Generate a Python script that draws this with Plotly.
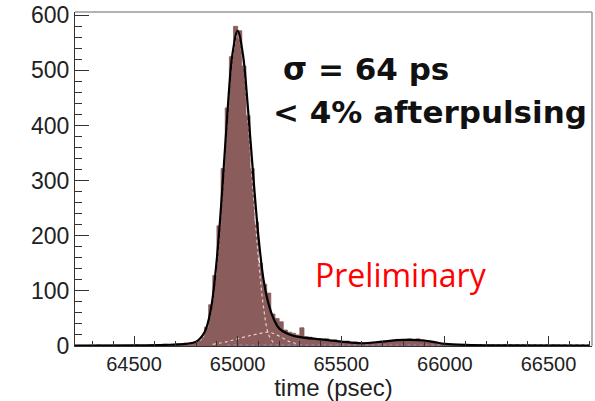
import numpy as np
import plotly.graph_objects as go

# Histogram: 20 ps bins from 64200 to 66700 ps
bin_width = 20
bin_centers = np.arange(64210, 66700, bin_width)
counts = [
    # 64210 .. 64790
    0, 1, 0, 0, 1, 0, 2, 0, 1, 0, 0, 1, 0, 1, 0, 2, 0, 1, 1, 2,
    1, 2, 3, 2, 3, 4, 3, 5, 4, 6,
    # 64810 .. 65190 (main peak)
    9, 16, 34, 75, 128, 218, 322, 432, 525, 580,
    572, 508, 418, 322, 225, 150, 112, 96, 58, 50,
    # 65210 .. 65590
    44, 29, 25, 23, 20, 33, 17, 16, 14, 13,
    12, 13, 10, 11, 9, 8, 9, 6, 7, 5,
    # 65610 .. 65990 (afterpulse bump)
    6, 5, 7, 6, 8, 9, 8, 10, 12, 11,
    12, 13, 12, 13, 11, 10, 9, 7, 5, 4,
    # 66010 .. 66690
    3, 2, 2, 1, 2, 1, 0, 1, 1, 0,
    2, 0, 1, 0, 1, 1, 0, 2, 0, 1,
    0, 1, 0, 0, 1, 0, 2, 0, 1, 0,
    1, 0, 1, 0, 0,
]
assert len(counts) == len(bin_centers)

# Total fit curve
fit_t = [64200, 64500, 64650, 64750, 64800, 64840, 64870, 64900, 64925, 64950,
         64975, 65000, 65025, 65050, 65075, 65100, 65125, 65150, 65175, 65200,
         65250, 65300, 65400, 65500, 65600, 65700, 65800, 65900, 65950, 66000,
         66100, 66300, 66700]
fit_y = [0.5, 1, 2, 4, 8, 25, 65, 160, 280, 420,
         530, 572, 530, 430, 310, 200, 120, 75, 48, 32,
         21, 16, 12, 8, 5, 8, 11, 10, 7, 4,
         2, 1, 0.5]

# Fit components: prompt gaussian, afterpulse shoulder, flat background
gaus_t = [64820, 64860, 64900, 64925, 64950, 64975, 65000, 65025, 65050,
          65075, 65100, 65125, 65150, 65180]
gaus_y = [10, 45, 150, 270, 410, 520, 565, 520, 410, 280, 160, 70, 20, 3]
shoulder_t = [64880, 64950, 65000, 65050, 65100, 65150, 65200, 65250, 65300]
shoulder_y = [3, 8, 13, 18, 22, 25, 18, 8, 3]
bkg_t = [64950, 66700]
bkg_y = [2, 2]

bar_color = "rgb(139,92,92)"

fig = go.Figure()
# histogram as a filled step outline (solid, no seams between bins)
fig.add_trace(go.Scatter(
    x=bin_centers, y=counts, mode="lines", line_shape="hvh",
    line=dict(color=bar_color, width=0.8), fill="tozeroy", fillcolor=bar_color,
    showlegend=False, hoverinfo="skip",
))
fig.add_trace(go.Scatter(
    x=bkg_t, y=bkg_y, mode="lines",
    line=dict(color="rgb(150,120,170)", width=1.5, dash="dot"),
    showlegend=False, hoverinfo="skip",
))
fig.add_trace(go.Scatter(
    x=shoulder_t, y=shoulder_y, mode="lines", line_shape="spline",
    line=dict(color="rgb(235,205,205)", width=1.2, dash="dot"),
    showlegend=False, hoverinfo="skip",
))
fig.add_trace(go.Scatter(
    x=gaus_t, y=gaus_y, mode="lines", line_shape="spline",
    line=dict(color="rgb(235,205,205)", width=1.2, dash="dot"),
    showlegend=False, hoverinfo="skip",
))
fig.add_trace(go.Scatter(
    x=fit_t, y=fit_y, mode="lines", line_shape="spline",
    line=dict(color="black", width=2.2),
    showlegend=False, hoverinfo="skip",
))

axis_font = dict(family="Liberation Sans, Arial, sans-serif", color="#222")

fig.update_layout(
    width=595, height=401,
    margin=dict(l=75, r=3, t=12, b=55),
    paper_bgcolor="white", plot_bgcolor="white",
    xaxis=dict(
        range=[64215, 66710],
        tickvals=[64500, 65000, 65500, 66000, 66500],
        tickformat="d",
        ticks="inside", ticklen=10, tickwidth=1, tickcolor="#333",
        minor=dict(dtick=100, tick0=64500, ticks="inside", ticklen=5, tickcolor="#333"),
        showline=True, linecolor="#333", linewidth=1.2,
        showgrid=False, zeroline=False,
        tickfont=dict(size=20, **axis_font),
        title=dict(text="time (psec)", font=dict(size=24, **axis_font), standoff=4),
    ),
    yaxis=dict(
        range=[0, 606],
        tickvals=[0, 100, 200, 300, 400, 500, 600],
        ticks="inside", ticklen=14, tickwidth=1, tickcolor="#333",
        minor=dict(dtick=20, ticks="inside", ticklen=7, tickcolor="#333"),
        showline=True, linecolor="#333", linewidth=1.2,
        showgrid=False, zeroline=False,
        tickfont=dict(size=23, **axis_font),
    ),
    shapes=[
        dict(type="line", xref="paper", yref="paper", x0=0, x1=1, y0=1, y1=1,
             line=dict(color="#999", width=1.5)),
        dict(type="line", xref="paper", yref="paper", x0=1, x1=1, y0=0, y1=1,
             line=dict(color="#999", width=1.5)),
    ],
    annotations=[
        dict(text="<b>σ = 64 ps</b>", xref="paper", yref="paper",
             x=(281 - 75) / 517, y=(346 - 69) / 334, xanchor="left", yanchor="middle",
             showarrow=False, font=dict(family="DejaVu Sans", size=31, color="#111")),
        dict(text="<b>< 4% afterpulsing</b>", xref="paper", yref="paper",
             x=(271 - 75) / 517, y=(346 - 112) / 334, xanchor="left", yanchor="middle",
             showarrow=False, font=dict(family="DejaVu Sans", size=31, color="#111")),
        dict(text="Preliminary", xref="paper", yref="paper",
             x=(401 - 75) / 517, y=(346 - 274) / 334, xanchor="center", yanchor="middle",
             showarrow=False, font=dict(family="Open Sans", size=32, color="red")),
    ],
)

fig.write_html("out.html")
